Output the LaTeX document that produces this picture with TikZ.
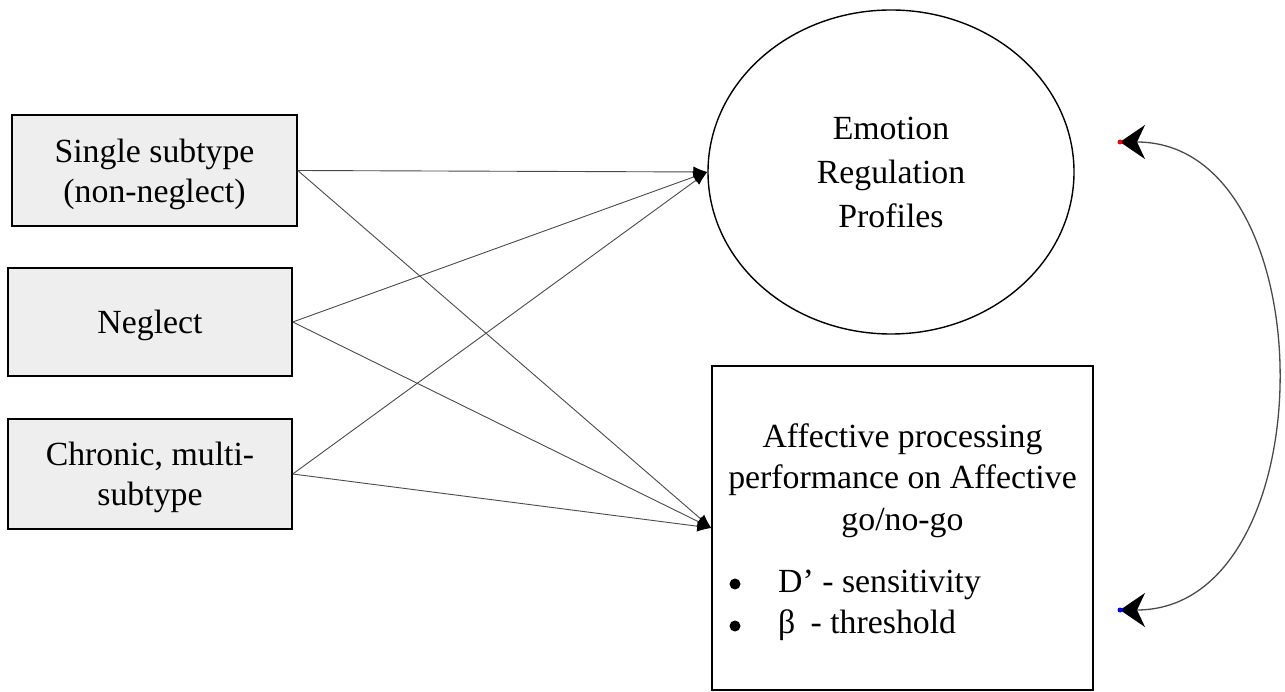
\documentclass[tikz,border=0pt]{standalone}
\usepackage{fontspec}
\setmainfont{Liberation Serif}
\usetikzlibrary{arrows.meta,shapes.geometric}
\definecolor{boxgray}{HTML}{EEEEEE}
\definecolor{linegray}{HTML}{4A4A4A}
\begin{document}
\begin{tikzpicture}[x=1pt,y=-1pt,
  txt/.style={font=\fontsize{33.8}{40}\selectfont},
  box/.style={draw=black, line width=1.5pt, fill=boxgray, inner sep=0pt, align=center, text depth=0pt, txt},
  conn/.style={draw=linegray, line width=0.9pt, -{Latex[length=14pt,width=11pt,color=black]}},
  corr/.style={draw=linegray, line width=1.3pt,
     {Stealth[length=25pt,width=34pt,inset=8pt,color=black]}-{Stealth[length=25pt,width=34pt,inset=8pt,color=black]}},
  dot/.style={circle, inner sep=0pt, minimum size=5pt},
  bullet/.style={circle, fill=black, inner sep=0pt, minimum size=11pt}]
\useasboundingbox (0,0) rectangle (1285,692);

\node[box, minimum width=285pt, minimum height=111pt] (b1) at (154.5,170.5) {Single subtype\\(non-neglect)};
\node[box, minimum width=284pt, minimum height=108pt] (b2) at (150,322) {Neglect};
\node[box, minimum width=284pt, minimum height=110pt] (b3) at (150,474) {Chronic, multi-\\subtype};

\node[draw=black, line width=1.4pt, ellipse, minimum width=366pt, minimum height=324pt, inner sep=0pt,
      align=center, font=\fontsize{33.8}{44}\selectfont] (ell) at (891,172) {Emotion\\Regulation\\Profiles};

\node[draw=black, line width=1.5pt, minimum width=381pt, minimum height=324pt, inner sep=0pt] (b4) at (902.5,528) {};
\node[txt, anchor=base, inner sep=0pt] (t1) at (902.5,447) {Affective processing};
\node[txt, anchor=base, inner sep=0pt] (t2) at (902.5,488) {performance on Affective};
\node[txt, anchor=base, inner sep=0pt] (t3) at (902.5,530) {go/no-go};
\node[bullet] (bu1) at (735,584) {};
\node[bullet] (bu2) at (735,626) {};
\node[txt, anchor=base west, inner sep=0pt] (i1) at (778,592) {D’ - sensitivity};
\node[txt, anchor=base west, inner sep=0pt] (i2) at (778,633) {β\hspace{0.45em}- threshold};

\draw[conn] (b1.east) -- (ell.west);
\draw[conn] (b1.east) -- (b4.west);
\draw[conn] (b2.east) -- (ell.west);
\draw[conn] (b2.east) -- (b4.west);
\draw[conn] (b3.east) -- (ell.west);
\draw[conn] (b3.east) -- (b4.west);

\coordinate (p1) at (1120,142);
\coordinate (p2) at (1120,610);
\draw[corr] (p1) .. controls (1328,142) and (1328,610) .. (p2);
\node[dot, fill=red] (d1) at (p1) {};
\node[dot, fill=blue] (d2) at (p2) {};
\end{tikzpicture}
\end{document}
